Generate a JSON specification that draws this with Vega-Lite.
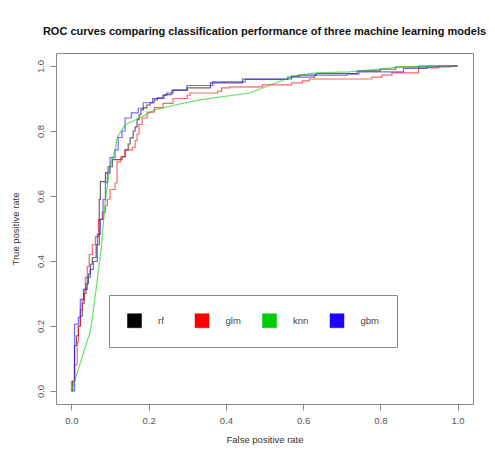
{
 "$schema": "https://vega.github.io/schema/vega-lite/v6.json",
 "width": 417,
 "height": 351,
 "autosize": {"type": "none"},
 "padding": {"left": 56, "top": 53, "right": 22, "bottom": 60},
 "background": "white",
 "config": {"view": {"stroke": "#8a8a8a", "strokeWidth": 1}, "font": "Liberation Sans"},
 "title": {"text": "ROC curves comparing classification performance of three machine learning models", "fontSize": 11, "fontWeight": "bold", "color": "#111111", "anchor": "middle", "offset": 16, "font": "Liberation Sans"},
 "datasets": {
  "roc": [
   {"model":"rf","i":0,"fpr":0,"tpr":0},{"model":"rf","i":1,"fpr":0.003,"tpr":0.03},{"model":"rf","i":2,"fpr":0.008,"tpr":0.14},{"model":"rf","i":3,"fpr":0.013,"tpr":0.17},{"model":"rf","i":4,"fpr":0.018,"tpr":0.2},{"model":"rf","i":5,"fpr":0.023,"tpr":0.23},{"model":"rf","i":6,"fpr":0.028,"tpr":0.27},{"model":"rf","i":7,"fpr":0.033,"tpr":0.3},{"model":"rf","i":8,"fpr":0.038,"tpr":0.33},{"model":"rf","i":9,"fpr":0.044,"tpr":0.36},{"model":"rf","i":10,"fpr":0.049,"tpr":0.39},{"model":"rf","i":11,"fpr":0.054,"tpr":0.41},{"model":"rf","i":12,"fpr":0.064,"tpr":0.45},{"model":"rf","i":13,"fpr":0.072,"tpr":0.59},{"model":"rf","i":14,"fpr":0.075,"tpr":0.644},{"model":"rf","i":15,"fpr":0.088,"tpr":0.672},{"model":"rf","i":16,"fpr":0.095,"tpr":0.69},{"model":"rf","i":17,"fpr":0.106,"tpr":0.712},{"model":"rf","i":18,"fpr":0.131,"tpr":0.721},{"model":"rf","i":19,"fpr":0.139,"tpr":0.742},{"model":"rf","i":20,"fpr":0.147,"tpr":0.76},{"model":"rf","i":21,"fpr":0.152,"tpr":0.779},{"model":"rf","i":22,"fpr":0.16,"tpr":0.8},{"model":"rf","i":23,"fpr":0.165,"tpr":0.813},{"model":"rf","i":24,"fpr":0.17,"tpr":0.835},{"model":"rf","i":25,"fpr":0.175,"tpr":0.85},{"model":"rf","i":26,"fpr":0.18,"tpr":0.865},{"model":"rf","i":27,"fpr":0.186,"tpr":0.871},{"model":"rf","i":28,"fpr":0.195,"tpr":0.88},{"model":"rf","i":29,"fpr":0.204,"tpr":0.887},{"model":"rf","i":30,"fpr":0.214,"tpr":0.896},{"model":"rf","i":31,"fpr":0.222,"tpr":0.902},{"model":"rf","i":32,"fpr":0.237,"tpr":0.91},{"model":"rf","i":33,"fpr":0.247,"tpr":0.917},{"model":"rf","i":34,"fpr":0.263,"tpr":0.926},{"model":"rf","i":35,"fpr":0.3,"tpr":0.933},{"model":"rf","i":36,"fpr":0.36,"tpr":0.948},{"model":"rf","i":37,"fpr":0.443,"tpr":0.96},{"model":"rf","i":38,"fpr":0.57,"tpr":0.969},{"model":"rf","i":39,"fpr":0.59,"tpr":0.972},{"model":"rf","i":40,"fpr":0.634,"tpr":0.977},{"model":"rf","i":41,"fpr":0.74,"tpr":0.985},{"model":"rf","i":42,"fpr":0.8,"tpr":0.99},{"model":"rf","i":43,"fpr":0.84,"tpr":0.997},{"model":"rf","i":44,"fpr":0.9,"tpr":1},{"model":"rf","i":45,"fpr":1,"tpr":1},
   {"model":"glm","i":0,"fpr":0,"tpr":0},{"model":"glm","i":1,"fpr":0,"tpr":0.03},{"model":"glm","i":2,"fpr":0.008,"tpr":0.08},{"model":"glm","i":3,"fpr":0.015,"tpr":0.15},{"model":"glm","i":4,"fpr":0.018,"tpr":0.2},{"model":"glm","i":5,"fpr":0.023,"tpr":0.25},{"model":"glm","i":6,"fpr":0.028,"tpr":0.28},{"model":"glm","i":7,"fpr":0.033,"tpr":0.31},{"model":"glm","i":8,"fpr":0.036,"tpr":0.35},{"model":"glm","i":9,"fpr":0.041,"tpr":0.383},{"model":"glm","i":10,"fpr":0.046,"tpr":0.42},{"model":"glm","i":11,"fpr":0.054,"tpr":0.45},{"model":"glm","i":12,"fpr":0.062,"tpr":0.475},{"model":"glm","i":13,"fpr":0.07,"tpr":0.528},{"model":"glm","i":14,"fpr":0.08,"tpr":0.55},{"model":"glm","i":15,"fpr":0.088,"tpr":0.57},{"model":"glm","i":16,"fpr":0.093,"tpr":0.59},{"model":"glm","i":17,"fpr":0.1,"tpr":0.62},{"model":"glm","i":18,"fpr":0.113,"tpr":0.64},{"model":"glm","i":19,"fpr":0.118,"tpr":0.705},{"model":"glm","i":20,"fpr":0.127,"tpr":0.72},{"model":"glm","i":21,"fpr":0.139,"tpr":0.742},{"model":"glm","i":22,"fpr":0.158,"tpr":0.75},{"model":"glm","i":23,"fpr":0.165,"tpr":0.77},{"model":"glm","i":24,"fpr":0.17,"tpr":0.79},{"model":"glm","i":25,"fpr":0.175,"tpr":0.82},{"model":"glm","i":26,"fpr":0.183,"tpr":0.84},{"model":"glm","i":27,"fpr":0.196,"tpr":0.858},{"model":"glm","i":28,"fpr":0.215,"tpr":0.872},{"model":"glm","i":29,"fpr":0.237,"tpr":0.885},{"model":"glm","i":30,"fpr":0.263,"tpr":0.9},{"model":"glm","i":31,"fpr":0.3,"tpr":0.91},{"model":"glm","i":32,"fpr":0.307,"tpr":0.917},{"model":"glm","i":33,"fpr":0.379,"tpr":0.923},{"model":"glm","i":34,"fpr":0.389,"tpr":0.933},{"model":"glm","i":35,"fpr":0.41,"tpr":0.936},{"model":"glm","i":36,"fpr":0.495,"tpr":0.942},{"model":"glm","i":37,"fpr":0.57,"tpr":0.948},{"model":"glm","i":38,"fpr":0.598,"tpr":0.954},{"model":"glm","i":39,"fpr":0.616,"tpr":0.96},{"model":"glm","i":40,"fpr":0.778,"tpr":0.966},{"model":"glm","i":41,"fpr":0.804,"tpr":0.972},{"model":"glm","i":42,"fpr":0.83,"tpr":0.979},{"model":"glm","i":43,"fpr":0.899,"tpr":0.994},{"model":"glm","i":44,"fpr":0.951,"tpr":1},{"model":"glm","i":45,"fpr":1,"tpr":1},
   {"model":"knn","i":0,"fpr":0,"tpr":0},{"model":"knn","i":1,"fpr":0.049,"tpr":0.184},{"model":"knn","i":2,"fpr":0.057,"tpr":0.25},{"model":"knn","i":3,"fpr":0.077,"tpr":0.436},{"model":"knn","i":4,"fpr":0.088,"tpr":0.589},{"model":"knn","i":5,"fpr":0.1,"tpr":0.69},{"model":"knn","i":6,"fpr":0.113,"tpr":0.742},{"model":"knn","i":7,"fpr":0.119,"tpr":0.782},{"model":"knn","i":8,"fpr":0.139,"tpr":0.819},{"model":"knn","i":9,"fpr":0.183,"tpr":0.844},{"model":"knn","i":10,"fpr":0.216,"tpr":0.865},{"model":"knn","i":11,"fpr":0.268,"tpr":0.88},{"model":"knn","i":12,"fpr":0.332,"tpr":0.896},{"model":"knn","i":13,"fpr":0.461,"tpr":0.917},{"model":"knn","i":14,"fpr":0.57,"tpr":0.966},{"model":"knn","i":15,"fpr":0.59,"tpr":0.972},{"model":"knn","i":16,"fpr":0.634,"tpr":0.979},{"model":"knn","i":17,"fpr":0.719,"tpr":0.982},{"model":"knn","i":18,"fpr":0.804,"tpr":0.991},{"model":"knn","i":19,"fpr":0.848,"tpr":0.997},{"model":"knn","i":20,"fpr":0.933,"tpr":1},{"model":"knn","i":21,"fpr":1,"tpr":1},
   {"model":"gbm","i":0,"fpr":0,"tpr":0},{"model":"gbm","i":1,"fpr":0.008,"tpr":0.206},{"model":"gbm","i":2,"fpr":0.018,"tpr":0.227},{"model":"gbm","i":3,"fpr":0.023,"tpr":0.282},{"model":"gbm","i":4,"fpr":0.031,"tpr":0.313},{"model":"gbm","i":5,"fpr":0.041,"tpr":0.35},{"model":"gbm","i":6,"fpr":0.049,"tpr":0.374},{"model":"gbm","i":7,"fpr":0.057,"tpr":0.399},{"model":"gbm","i":8,"fpr":0.067,"tpr":0.482},{"model":"gbm","i":9,"fpr":0.075,"tpr":0.528},{"model":"gbm","i":10,"fpr":0.082,"tpr":0.589},{"model":"gbm","i":11,"fpr":0.088,"tpr":0.641},{"model":"gbm","i":12,"fpr":0.093,"tpr":0.67},{"model":"gbm","i":13,"fpr":0.1,"tpr":0.718},{"model":"gbm","i":14,"fpr":0.113,"tpr":0.742},{"model":"gbm","i":15,"fpr":0.121,"tpr":0.78},{"model":"gbm","i":16,"fpr":0.131,"tpr":0.8},{"model":"gbm","i":17,"fpr":0.139,"tpr":0.84},{"model":"gbm","i":18,"fpr":0.155,"tpr":0.856},{"model":"gbm","i":19,"fpr":0.173,"tpr":0.87},{"model":"gbm","i":20,"fpr":0.186,"tpr":0.887},{"model":"gbm","i":21,"fpr":0.21,"tpr":0.9},{"model":"gbm","i":22,"fpr":0.24,"tpr":0.912},{"model":"gbm","i":23,"fpr":0.26,"tpr":0.926},{"model":"gbm","i":24,"fpr":0.299,"tpr":0.94},{"model":"gbm","i":25,"fpr":0.366,"tpr":0.951},{"model":"gbm","i":26,"fpr":0.45,"tpr":0.959},{"model":"gbm","i":27,"fpr":0.56,"tpr":0.966},{"model":"gbm","i":28,"fpr":0.63,"tpr":0.972},{"model":"gbm","i":29,"fpr":0.714,"tpr":0.975},{"model":"gbm","i":30,"fpr":0.745,"tpr":0.982},{"model":"gbm","i":31,"fpr":0.86,"tpr":0.993},{"model":"gbm","i":32,"fpr":0.92,"tpr":0.997},{"model":"gbm","i":33,"fpr":0.98,"tpr":1},{"model":"gbm","i":34,"fpr":1,"tpr":1}
  ]
 },
 "data": {"name": "roc"},
 "encoding": {
  "x": {"field": "fpr", "type": "quantitative", "scale": {"domain": [-0.04, 1.04], "nice": false, "zero": false},
        "axis": {"values": [0, 0.2, 0.4, 0.6, 0.8, 1], "format": ".1f", "grid": false, "domain": false, "tickSize": 6, "tickColor": "#8a8a8a", "labelColor": "#555555", "labelFontSize": 9.5, "labelPadding": 5, "labelFont": "Liberation Sans", "title": "False positive rate", "titleFont": "Liberation Sans", "titleFontSize": 9.5, "titleFontWeight": "normal", "titleColor": "#333333", "titlePadding": 10}},
  "y": {"field": "tpr", "type": "quantitative", "scale": {"domain": [-0.04, 1.04], "nice": false, "zero": false},
        "axis": {"values": [0, 0.2, 0.4, 0.6, 0.8, 1], "format": ".1f", "grid": false, "domain": false, "tickSize": 6, "tickColor": "#8a8a8a", "labelColor": "#555555", "labelFontSize": 9.5, "labelPadding": 5, "labelAngle": 270, "labelAlign": "center", "labelBaseline": "bottom", "labelFont": "Liberation Sans", "title": "True positive rate", "titleFont": "Liberation Sans", "titleFontSize": 9.5, "titleFontWeight": "normal", "titleColor": "#333333", "titlePadding": 15}},
  "order": {"field": "i", "type": "quantitative"}
 },
 "layer": [
  {"transform": [{"filter": "datum.model !== 'knn'"}],
   "mark": {"type": "line", "interpolate": "step-after", "strokeWidth": 1.2, "opacity": 0.6},
   "encoding": {
    "color": {"field": "model", "type": "nominal",
            "scale": {"domain": ["rf", "glm", "knn", "gbm"], "range": ["#000000", "#ff0000", "#00cd00", "#2200ff"]},
            "legend": {"title": null, "orient": "none", "legendX": 53, "legendY": 242, "direction": "horizontal", "columns": 4, "gridAlign": "all", "columnPadding": 16.5, "symbolType": "square", "symbolSize": 196, "symbolStrokeWidth": 0.5, "symbolStrokeColor": "#555555", "symbolOpacity": 1, "labelOffset": 16, "labelFontSize": 9.5, "labelFont": "Liberation Sans", "labelColor": "#444444", "padding": 18, "strokeColor": "#8a8a8a", "fillColor": "white",
                       "encode": {"symbols": {"update": {"fill": {"signal": "scale('color', datum.value)"}, "fillOpacity": {"value": 1}, "opacity": {"value": 1}, "stroke": {"value": "#555555"}, "strokeWidth": {"value": 0.5}}}}}}
   }},
  {"transform": [{"filter": "datum.model === 'knn'"}],
   "mark": {"type": "line", "strokeWidth": 1.2, "opacity": 0.6},
   "encoding": {
    "color": {"field": "model", "type": "nominal", "legend": null}
   }}
 ]
}
